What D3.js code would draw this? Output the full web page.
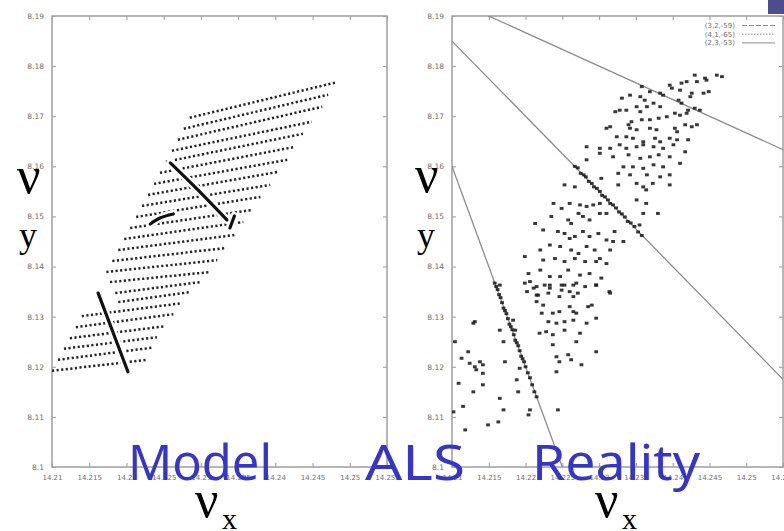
<!DOCTYPE html>
<html lang="en">
<head>
<meta charset="UTF-8">
<title>Model ALS Reality</title>
<script src="https://cdn.jsdelivr.net/npm/d3@7"></script>
<style>
  body { margin: 0; background: #fff; }
  svg { display: block; }
  .frame { fill: none; stroke: #a4a4a4; stroke-width: 1.6; }
  .tick-label { font-family: "DejaVu Sans", sans-serif; font-size: 7px; fill: #6e6e6e; }
  .ylab { font-size: 7.5px; }
  .big { font-family: "Liberation Serif", "DejaVu Serif", serif; fill: #000; }
  .blue { font-family: "Comic Sans MS", "Noto Sans", sans-serif; fill: #3535c9; }
  .legend { font-family: "DejaVu Sans", sans-serif; font-size: 7px; fill: #6e6e6e; }
</style>
</head>
<body>
<script>
// axis ticks (tunes nu_x, nu_y)
var xTicks = [14.21, 14.215, 14.22, 14.225, 14.23, 14.235, 14.24, 14.245, 14.25, 14.255];
var xTickLabels = ["14.21", "14.215", "14.22", "14.225", "14.23", "14.235", "14.24", "14.245", "14.25", "14.255"];
var yTicks = [8.10, 8.11, 8.12, 8.13, 8.14, 8.15, 8.16, 8.17, 8.18, 8.19];
var yTickLabels = ["8.1", "8.11", "8.12", "8.13", "8.14", "8.15", "8.16", "8.17", "8.18", "8.19"];

// Model: rows of tracked particles, [nux start, nuy start, nux end, nuy end]
var modelRows = [
  [14.2285, 8.1697, 14.2483, 8.1768],
  [14.2277, 8.1675, 14.2471, 8.1743],
  [14.2269, 8.1653, 14.2463, 8.1719],
  [14.2261, 8.1631, 14.2449, 8.1689],
  [14.2253, 8.1609, 14.2437, 8.1665],
  [14.2245, 8.1587, 14.2427, 8.1639],
  [14.2237, 8.1565, 14.2416, 8.1613],
  [14.2229, 8.1543, 14.2404, 8.1589],
  [14.2221, 8.1521, 14.2393, 8.1563],
  [14.2213, 8.1499, 14.2380, 8.1539],
  [14.2205, 8.1477, 14.2369, 8.1513],
  [14.2197, 8.1455, 14.2357, 8.1489],
  [14.2189, 8.1433, 14.2345, 8.1463],
  [14.2181, 8.1411, 14.2333, 8.1437],
  [14.2173, 8.1389, 14.2322, 8.1413],
  [14.2178, 8.1369, 14.2312, 8.1389],
  [14.2185, 8.1347, 14.2299, 8.1369],
  [14.2189, 8.1329, 14.2285, 8.1349],
  [14.2140, 8.1301, 14.2275, 8.1327],
  [14.2132, 8.1279, 14.2263, 8.1305],
  [14.2124, 8.1257, 14.2252, 8.1281],
  [14.2116, 8.1236, 14.2241, 8.1259],
  [14.2108, 8.1214, 14.2234, 8.1238],
  [14.2100, 8.1192, 14.2228, 8.1214]
];

// Model: particles locked on resonances (dark traces)
var modelTraces = [
  [[14.2259, 8.1607], [14.2296, 8.1553], [14.2335, 8.1493]],
  [[14.2345, 8.1501], [14.2339, 8.1477]],
  [[14.2232, 8.1485], [14.2245, 8.1497], [14.2263, 8.1505]],
  [[14.2162, 8.1347], [14.2202, 8.1190]]
];

// Reality: measured tunes, scattered cloud
var cloud = [
  [14.2430, 8.1782], [14.2444, 8.1776], [14.2460, 8.1782], [14.2467, 8.1779], [14.2396, 8.1762],
  [14.2412, 8.1766], [14.2419, 8.1769], [14.2433, 8.1769], [14.2446, 8.1772], [14.2399, 8.1756],
  [14.2410, 8.1752], [14.2426, 8.1746], [14.2442, 8.1746], [14.2449, 8.1749], [14.2358, 8.1759],
  [14.2383, 8.1746], [14.2387, 8.1742], [14.2369, 8.1749], [14.2424, 8.1739], [14.2408, 8.1732],
  [14.2412, 8.1726], [14.2430, 8.1716], [14.2437, 8.1712], [14.2421, 8.1712], [14.2342, 8.1742],
  [14.2331, 8.1736], [14.2356, 8.1739], [14.2362, 8.1732], [14.2374, 8.1726], [14.2383, 8.1719],
  [14.2351, 8.1719], [14.2365, 8.1719], [14.2322, 8.1709], [14.2328, 8.1712], [14.2337, 8.1712],
  [14.2356, 8.1709], [14.2403, 8.1706], [14.2410, 8.1702], [14.2419, 8.1706], [14.2392, 8.1699],
  [14.2381, 8.1696], [14.2369, 8.1693], [14.2358, 8.1693], [14.2344, 8.1689], [14.2340, 8.1683],
  [14.2310, 8.1676], [14.2315, 8.1679], [14.2342, 8.1676], [14.2351, 8.1673], [14.2369, 8.1676],
  [14.2378, 8.1673], [14.2403, 8.1676], [14.2406, 8.1669], [14.2417, 8.1683], [14.2426, 8.1679],
  [14.2433, 8.1683], [14.2324, 8.1659], [14.2337, 8.1659], [14.2346, 8.1656], [14.2360, 8.1649],
  [14.2376, 8.1656], [14.2383, 8.1649], [14.2396, 8.1656], [14.2406, 8.1653], [14.2421, 8.1653],
  [14.2283, 8.1639], [14.2301, 8.1636], [14.2315, 8.1636], [14.2328, 8.1643], [14.2337, 8.1636],
  [14.2351, 8.1639], [14.2360, 8.1643], [14.2374, 8.1639], [14.2387, 8.1636], [14.2401, 8.1643],
  [14.2417, 8.1629], [14.2301, 8.1626], [14.2319, 8.1619], [14.2340, 8.1623], [14.2356, 8.1616],
  [14.2369, 8.1619], [14.2381, 8.1623], [14.2396, 8.1619], [14.2410, 8.1606], [14.2283, 8.1613],
  [14.2333, 8.1599], [14.2346, 8.1599], [14.2360, 8.1596], [14.2374, 8.1603], [14.2387, 8.1599],
  [14.2326, 8.1586], [14.2342, 8.1583], [14.2365, 8.1583], [14.2383, 8.1579], [14.2396, 8.1583],
  [14.2303, 8.1576], [14.2351, 8.1566], [14.2360, 8.1559], [14.2396, 8.1563],
  [14.2238, 8.1526], [14.2249, 8.1516], [14.2260, 8.1526], [14.2274, 8.1523], [14.2283, 8.1520],
  [14.2292, 8.1523], [14.2301, 8.1526], [14.2235, 8.1500], [14.2258, 8.1493], [14.2262, 8.1486],
  [14.2272, 8.1506], [14.2278, 8.1500], [14.2287, 8.1493], [14.2301, 8.1506], [14.2310, 8.1506],
  [14.2213, 8.1486], [14.2224, 8.1473], [14.2244, 8.1470], [14.2253, 8.1466], [14.2260, 8.1456],
  [14.2267, 8.1460], [14.2278, 8.1470], [14.2287, 8.1460], [14.2299, 8.1466], [14.2310, 8.1453],
  [14.2319, 8.1450], [14.2321, 8.1470], [14.2333, 8.1450], [14.2220, 8.1433], [14.2233, 8.1443],
  [14.2247, 8.1440], [14.2262, 8.1433], [14.2272, 8.1426], [14.2283, 8.1440], [14.2294, 8.1433],
  [14.2301, 8.1416], [14.2315, 8.1433], [14.2199, 8.1420], [14.2224, 8.1413], [14.2240, 8.1416],
  [14.2253, 8.1410], [14.2267, 8.1416], [14.2281, 8.1410], [14.2296, 8.1410], [14.2310, 8.1406],
  [14.2204, 8.1386], [14.2220, 8.1393], [14.2233, 8.1380], [14.2247, 8.1380], [14.2258, 8.1393],
  [14.2274, 8.1383], [14.2287, 8.1386], [14.2303, 8.1377], [14.2199, 8.1367], [14.2211, 8.1357],
  [14.2233, 8.1363], [14.2249, 8.1353], [14.2265, 8.1363], [14.2281, 8.1360], [14.2296, 8.1363],
  [14.2315, 8.1347], [14.2215, 8.1343], [14.2373, 8.1566], [14.2326, 8.1563], [14.2364, 8.1553],
  [14.2351, 8.1533], [14.2364, 8.1526], [14.2360, 8.1506], [14.2380, 8.1506], [14.2355, 8.1483],
  [14.2253, 8.1563], [14.2267, 8.1559],
  [14.2158, 8.1367], [14.2165, 8.1363], [14.2206, 8.1370], [14.2215, 8.1360], [14.2226, 8.1363],
  [14.2233, 8.1357], [14.2249, 8.1363], [14.2253, 8.1363], [14.2269, 8.1367], [14.2296, 8.1363],
  [14.2314, 8.1350], [14.2202, 8.1350], [14.2217, 8.1343], [14.2231, 8.1347], [14.2215, 8.1330],
  [14.2224, 8.1323], [14.2246, 8.1340], [14.2260, 8.1350], [14.2265, 8.1340], [14.2271, 8.1347],
  [14.2285, 8.1320], [14.2290, 8.1323], [14.2222, 8.1307], [14.2237, 8.1307], [14.2246, 8.1310],
  [14.2260, 8.1320], [14.2265, 8.1310], [14.2269, 8.1307], [14.2231, 8.1290], [14.2242, 8.1287],
  [14.2253, 8.1290], [14.2265, 8.1293], [14.2283, 8.1287], [14.2296, 8.1297], [14.2219, 8.1267],
  [14.2228, 8.1270], [14.2237, 8.1264], [14.2253, 8.1273], [14.2274, 8.1267], [14.2237, 8.1244],
  [14.2269, 8.1250], [14.2296, 8.1230], [14.2242, 8.1220], [14.2246, 8.1210], [14.2258, 8.1224],
  [14.2262, 8.1214], [14.2276, 8.1204], [14.2242, 8.1190], [14.2244, 8.1114],
  [14.2131, 8.1290], [14.2129, 8.1287], [14.2104, 8.1250], [14.2122, 8.1230], [14.2113, 8.1217],
  [14.2124, 8.1207], [14.2131, 8.1200], [14.2138, 8.1210], [14.2142, 8.1204], [14.2133, 8.1194],
  [14.2142, 8.1187], [14.2109, 8.1167], [14.2142, 8.1164], [14.2129, 8.1150], [14.2115, 8.1121],
  [14.2102, 8.1110], [14.2149, 8.1084], [14.2118, 8.1074], [14.2165, 8.1137], [14.2170, 8.1114],
  [14.2163, 8.1090], [14.2172, 8.1210], [14.2170, 8.1250], [14.2165, 8.1273], [14.2183, 8.1293],
  [14.2186, 8.1273], [14.2192, 8.1197], [14.2206, 8.1114], [14.2204, 8.1104], [14.2188, 8.1174],
  [14.2190, 8.1150]
];

// Reality: tunes collected on the (3,2,-59) resonance
var bandA = [
  [14.2267, 8.1600], [14.2271, 8.1597], [14.2275, 8.1586], [14.2279, 8.1583], [14.2282, 8.1579],
  [14.2286, 8.1570], [14.2290, 8.1566], [14.2293, 8.1559], [14.2297, 8.1556], [14.2301, 8.1550],
  [14.2304, 8.1542], [14.2308, 8.1539], [14.2312, 8.1533], [14.2315, 8.1526], [14.2319, 8.1523],
  [14.2323, 8.1517], [14.2327, 8.1509], [14.2331, 8.1505], [14.2335, 8.1499], [14.2339, 8.1490],
  [14.2343, 8.1487], [14.2348, 8.1480], [14.2353, 8.1469], [14.2358, 8.1462]
];

// Reality: tunes collected on the (4,1,-65) resonance
var bandB = [
  [14.2160, 8.1360], [14.2162, 8.1354], [14.2164, 8.1344], [14.2166, 8.1338], [14.2168, 8.1328],
  [14.2170, 8.1317], [14.2172, 8.1312], [14.2174, 8.1306], [14.2176, 8.1296], [14.2178, 8.1285],
  [14.2180, 8.1280], [14.2182, 8.1274], [14.2184, 8.1264], [14.2186, 8.1253], [14.2188, 8.1248],
  [14.2190, 8.1242], [14.2192, 8.1232], [14.2194, 8.1221], [14.2196, 8.1216], [14.2198, 8.1210],
  [14.2200, 8.1200], [14.2203, 8.1188], [14.2206, 8.1178], [14.2209, 8.1164], [14.2212, 8.1150],
  [14.2215, 8.1140]
];

// resonance lines a*nux + b*nuy = c
var resonances = [[3, 2, 59], [4, 1, 65], [2, 3, 53]];
var legendLabels = ["(3,2,-59)", "(4,1,-65)", "(2,3,-53)"];
var legendDash = ["5,2", "1.5,1.5", null];
var titles = ["Model", "ALS", "Reality"];

var W = 784, H = 531;
var svg = d3.select('body').append('svg').attr('width', W).attr('height', H);

function panel(x0, x1, id) {
  var x = d3.scaleLinear().domain([14.21, 14.255]).range([x0, x1]);
  var y = d3.scaleLinear().domain([8.10, 8.19]).range([467, 16]);
  var g = svg.append('g');

  svg.append('clipPath').attr('id', id)
     .append('rect').attr('x', x0).attr('y', 16).attr('width', x1 - x0).attr('height', 451);

  var ax = g.append('g').attr('transform', 'translate(0,467)')
     .call(d3.axisBottom(x).tickValues(xTicks).tickFormat((d, i) => xTickLabels[i])
           .tickSizeInner(-4).tickSizeOuter(0).tickPadding(8));
  var ay = g.append('g').attr('transform', 'translate(' + x0 + ',0)')
     .call(d3.axisLeft(y).tickValues(yTicks).tickFormat((d, i) => yTickLabels[i])
           .tickSizeInner(-4).tickSizeOuter(0).tickPadding(8));
  var at = g.append('g').attr('transform', 'translate(0,16)')
     .call(d3.axisTop(x).tickValues(xTicks).tickFormat('').tickSizeInner(-4).tickSizeOuter(0));
  var ar = g.append('g').attr('transform', 'translate(' + x1 + ',0)')
     .call(d3.axisRight(y).tickValues(yTicks).tickFormat('').tickSizeInner(-4).tickSizeOuter(0));
  [ax, ay, at, ar].forEach(function(a) {
    a.select('.domain').remove();
    a.selectAll('line').attr('stroke', '#999');
    a.selectAll('text').attr('class', 'tick-label');
  });
  ay.selectAll('text').classed('ylab', true);

  g.append('rect').attr('class', 'frame')
   .attr('x', x0).attr('y', 16).attr('width', x1 - x0).attr('height', 451);

  return { x: x, y: y, g: g.append('g').attr('clip-path', 'url(#' + id + ')') };
}

// ---- left: model
var L = panel(52, 387, 'clipL');
L.g.selectAll('line.row').data(modelRows).enter().append('line')
   .attr('class', 'row')
   .attr('x1', d => L.x(d[0])).attr('y1', d => L.y(d[1]))
   .attr('x2', d => L.x(d[2])).attr('y2', d => L.y(d[3]))
   .attr('stroke', '#262626').attr('stroke-width', 2.5)
   .attr('stroke-dasharray', '2.2,2.4');

var traceLine = d3.line().x(d => L.x(d[0])).y(d => L.y(d[1])).curve(d3.curveCatmullRom);
L.g.selectAll('path.gap').data(modelTraces).enter().append('path')
   .attr('d', traceLine).attr('fill', 'none')
   .attr('stroke', '#fff').attr('stroke-width', 8).attr('stroke-linecap', 'round');
L.g.selectAll('path.trace').data(modelTraces).enter().append('path')
   .attr('d', traceLine).attr('fill', 'none')
   .attr('stroke', '#111').attr('stroke-width', 3.2).attr('stroke-linecap', 'round');

// ---- right: reality
var R = panel(452, 783, 'clipR');
R.g.selectAll('line.res').data(resonances).enter().append('line')
   .attr('x1', R.x(14.20)).attr('y1', d => R.y((d[2] - d[0] * 14.20) / d[1]))
   .attr('x2', R.x(14.26)).attr('y2', d => R.y((d[2] - d[0] * 14.26) / d[1]))
   .attr('stroke', '#8c8c8c').attr('stroke-width', 1.3);

var pts = cloud.concat(bandA, bandB);
R.g.selectAll('rect.pt').data(pts).enter().append('rect')
   .attr('x', d => R.x(d[0]) - 1.9).attr('y', d => R.y(d[1]) - 1.5)
   .attr('width', 3.8).attr('height', 3)
   .attr('fill', '#1c1c1c').attr('opacity', 0.88);

var lg = svg.append('g');
legendLabels.forEach(function(t, i) {
  lg.append('text').attr('class', 'legend').attr('x', 735).attr('y', 28 + i * 8.7)
    .attr('text-anchor', 'end').text(t);
  lg.append('line').attr('x1', 742).attr('x2', 775)
    .attr('y1', 25.5 + i * 8.7).attr('y2', 25.5 + i * 8.7)
    .attr('stroke', '#8c8c8c').attr('stroke-width', 1)
    .attr('stroke-dasharray', legendDash[i]);
});

// slide decoration in the corner
svg.append('rect').attr('x', 768).attr('y', 0).attr('width', 16).attr('height', 14).attr('fill', '#4d4d8e');

// axis symbols
function nu(xp, yp, sub, xs, ys) {
  svg.append('text').attr('class', 'big').attr('x', xp).attr('y', yp)
     .attr('font-size', 52).text('\u03bd');
  svg.append('text').attr('class', 'big').attr('x', xs).attr('y', ys)
     .attr('font-size', sub === 'y' ? 36 : 30).text(sub);
}
nu(17, 193, 'y', 19, 247);
nu(415, 192, 'y', 417, 247);
nu(195, 517, 'x', 222, 529);
nu(595, 517, 'x', 622, 529);

// captions
var capX = [128, 365, 532];
var capW = [144, 100, 168];
titles.forEach(function(t, i) {
  svg.append('text').attr('class', 'blue').attr('x', capX[i]).attr('y', 480)
     .attr('font-size', 50).attr('textLength', capW[i]).attr('lengthAdjust', 'spacingAndGlyphs')
     .text(t);
});
</script>
</body>
</html>
